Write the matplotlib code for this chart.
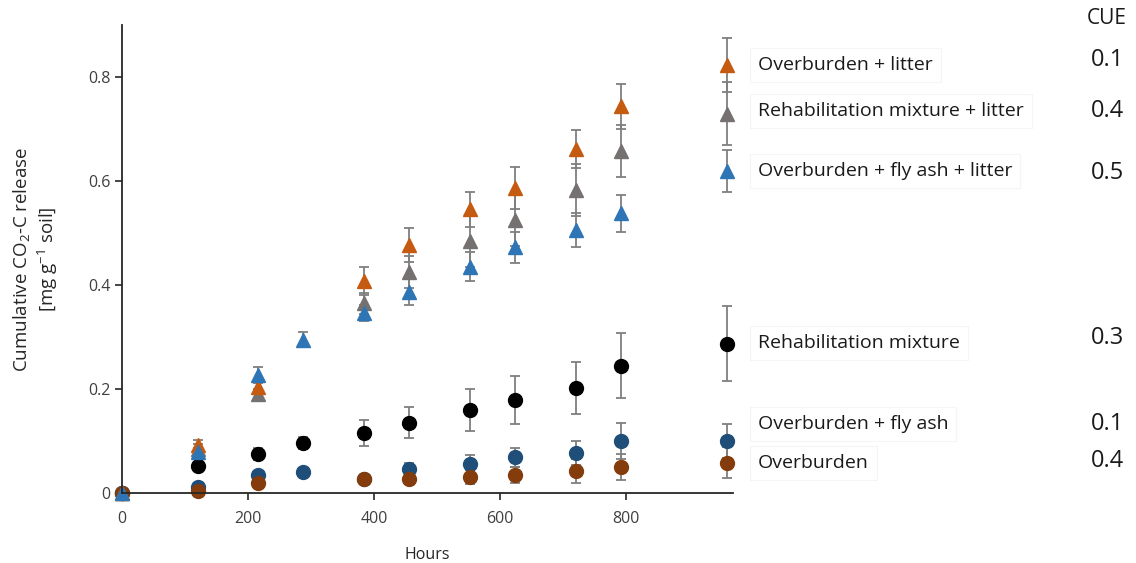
import numpy as np
import matplotlib.pyplot as plt
from matplotlib.ticker import FuncFormatter

plt.rcParams['font.family'] = ['Open Sans', 'DejaVu Sans']
plt.rcParams['mathtext.default'] = 'regular'

hours = [0, 120, 216, 288, 384, 456, 552, 624, 720, 792, 960]
nan = np.nan

# litter treatments (triangles)
ob_litter = [0, 0.092, 0.203, nan, 0.408, 0.477, 0.546, 0.587, 0.662, 0.744, 0.823]
ob_litter_err = [0, 0.01, 0.01, 0, 0.027, 0.032, 0.034, 0.04, 0.036, 0.043, 0.052]
rm_litter = [0, 0.085, 0.19, nan, 0.365, 0.425, 0.485, 0.525, 0.583, 0.658, 0.73]
rm_litter_err = [0, 0.01, 0.01, 0, 0.02, 0.03, 0.05, 0.05, 0.05, 0.05, 0.06]
ofa_litter = [0, 0.079, 0.227, 0.295, 0.346, 0.387, 0.435, 0.473, 0.506, 0.538, 0.62]
ofa_litter_err = [0, 0.008, 0.015, 0.015, 0.015, 0.025, 0.028, 0.03, 0.033, 0.035, 0.04]

# no litter (circles)
rm = [0, 0.052, 0.075, 0.096, 0.116, 0.135, 0.16, 0.179, 0.202, 0.245, 0.287]
rm_err = [0, 0.008, 0.012, 0.012, 0.025, 0.03, 0.04, 0.047, 0.05, 0.062, 0.072]
ofa = [0, 0.012, 0.034, 0.04, 0.027, 0.046, 0.056, 0.069, 0.077, 0.1, 0.1]
ofa_err = [0, 0.005, 0.005, 0.006, 0.008, 0.012, 0.018, 0.018, 0.023, 0.034, 0.033]
ob = [0, 0.003, 0.02, nan, 0.027, 0.027, 0.031, 0.035, 0.042, 0.05, 0.058]
ob_err = [0, 0.004, 0.004, 0, 0.007, 0.008, 0.014, 0.015, 0.023, 0.025, 0.03]

labels = ['Overburden + litter', 'Rehabilitation mixture + litter',
          'Overburden + fly ash + litter', 'Rehabilitation mixture',
          'Overburden + fly ash', 'Overburden']
cue = ['0.1', '0.4', '0.5', '0.3', '0.1', '0.4']

series = [
    (rm, rm_err, 'o', '#000000'),
    (ofa, ofa_err, 'o', '#1F4E79'),
    (ob, ob_err, 'o', '#843C0C'),
    (rm_litter, rm_litter_err, '^', '#767171'),
    (ob_litter, ob_litter_err, '^', '#C55A11'),
    (ofa_litter, ofa_litter_err, '^', '#2E75B6'),
]

fig = plt.figure(figsize=(11.36, 5.63), dpi=100)
ax = fig.add_axes([0.1074, 0.1243, 0.538, 0.831])

for y, e, m, c in series:
    ax.errorbar(hours, y, yerr=e, fmt=m, color=c, ms=10, ecolor='#7f7f7f',
                elinewidth=1.3, capsize=3.5, capthick=1.3, mec=c, clip_on=False)

ax.set_xlim(0, 970)
ax.set_ylim(0, 0.9)
ax.set_xticks([0, 200, 400, 600, 800])
ax.set_yticks([0, 0.2, 0.4, 0.6, 0.8])
ax.yaxis.set_major_formatter(FuncFormatter(lambda v, p: '0' if v == 0 else f'{v:.1f}'))
ax.spines['top'].set_visible(False)
ax.spines['right'].set_visible(False)
for s in ['left', 'bottom']:
    ax.spines[s].set_color('#262626')
    ax.spines[s].set_linewidth(1.3)
ax.tick_params(direction='out', length=5, width=1.2, color='#262626',
               labelsize=11.5, labelcolor='#404040')
ax.tick_params(axis='x', pad=8)

ax.set_xlabel('Hours', fontsize=11.5, color='#262626', labelpad=14)
ax.set_ylabel('Cumulative CO$_2$-C release\n[mg g$^{-1}$ soil]', fontsize=13.5,
              color='#262626', labelpad=20, linespacing=1.2)

# labels and CUE values on the right
label_y = [65, 111, 171, 343, 424, 463]
cue_y = [60, 111, 173, 338, 424, 461]
W, H = 1136, 563
for lab, ly in zip(labels, label_y):
    fig.text(758 / W, 1 - ly / H, lab, fontsize=14, va='center', ha='left',
             color='#1a1a1a',
             bbox=dict(boxstyle='square,pad=0.4', fc='none', ec='#f5f5f5', lw=0.8))
for v, cy in zip(cue, cue_y):
    fig.text(1124 / W, 1 - cy / H, v, fontsize=17, va='center', ha='right', color='#1a1a1a')
fig.text(1107 / W, 1 - 18 / H, 'CUE', fontsize=15, va='center', ha='center', color='#1a1a1a')

fig.savefig('out.png', dpi=100)
